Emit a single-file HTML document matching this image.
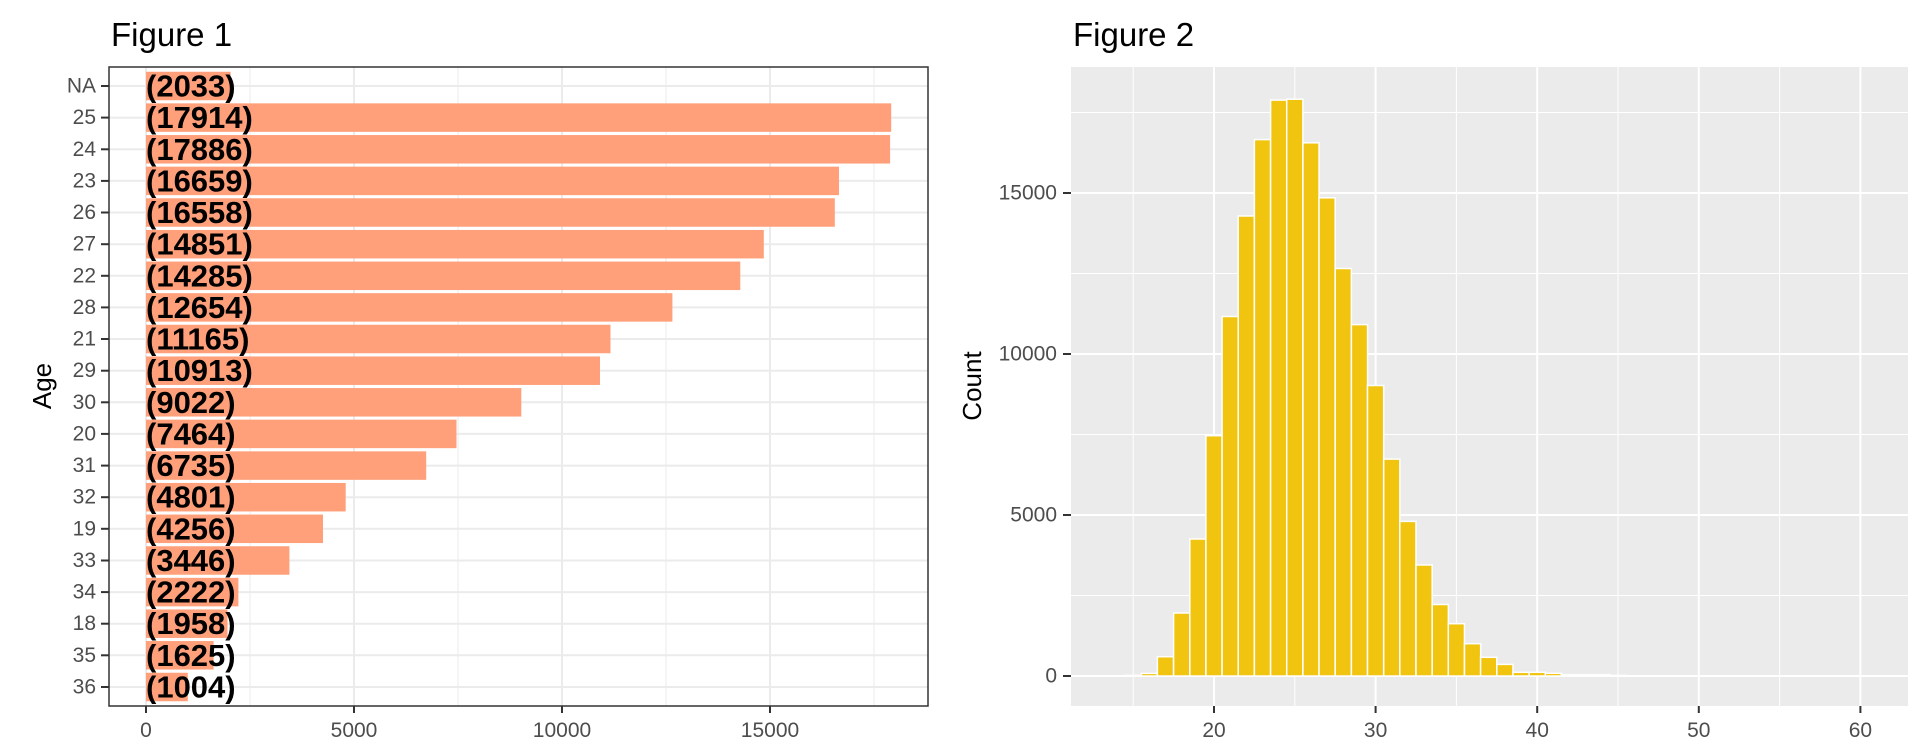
<!DOCTYPE html>
<html><head><meta charset="utf-8"><style>
html,body{margin:0;padding:0;background:#fff;}
svg{display:block;font-family:"Liberation Sans",Arial,sans-serif;}
.tk{font-size:21px;fill:#4d4d4d;}
.lb{font-size:31px;font-weight:bold;fill:#000;}
</style></head><body>
<svg width="1920" height="750" viewBox="0 0 1920 750" xmlns="http://www.w3.org/2000/svg">
<rect width="1920" height="750" fill="#fff"/>
<!-- Figure 1 -->
<text x="111" y="46" font-size="33" fill="#000">Figure 1</text>
<g stroke="#ebebeb">
<g stroke-width="1">
<line x1="250" y1="67" x2="250" y2="706"/><line x1="458" y1="67" x2="458" y2="706"/><line x1="666" y1="67" x2="666" y2="706"/><line x1="874" y1="67" x2="874" y2="706"/>
</g>
<g stroke-width="2">
<line x1="146" y1="67" x2="146" y2="706"/><line x1="354" y1="67" x2="354" y2="706"/><line x1="562" y1="67" x2="562" y2="706"/><line x1="770" y1="67" x2="770" y2="706"/>
<line x1="109" x2="928" y1="86" y2="86"/><line x1="109" x2="928" y1="117.6" y2="117.6"/><line x1="109" x2="928" y1="149.3" y2="149.3"/><line x1="109" x2="928" y1="180.9" y2="180.9"/><line x1="109" x2="928" y1="212.5" y2="212.5"/><line x1="109" x2="928" y1="244.2" y2="244.2"/><line x1="109" x2="928" y1="275.8" y2="275.8"/><line x1="109" x2="928" y1="307.4" y2="307.4"/><line x1="109" x2="928" y1="339" y2="339"/><line x1="109" x2="928" y1="370.7" y2="370.7"/><line x1="109" x2="928" y1="402.3" y2="402.3"/><line x1="109" x2="928" y1="433.9" y2="433.9"/><line x1="109" x2="928" y1="465.6" y2="465.6"/><line x1="109" x2="928" y1="497.2" y2="497.2"/><line x1="109" x2="928" y1="528.8" y2="528.8"/><line x1="109" x2="928" y1="560.5" y2="560.5"/><line x1="109" x2="928" y1="592.1" y2="592.1"/><line x1="109" x2="928" y1="623.7" y2="623.7"/><line x1="109" x2="928" y1="655.3" y2="655.3"/><line x1="109" x2="928" y1="687" y2="687"/>
</g></g>
<g fill="#FFA07A">
<rect x="146" y="71.75" width="84.6" height="28.5"/>
<rect x="146" y="103.35" width="745.2" height="28.5"/>
<rect x="146" y="135.05" width="744.1" height="28.5"/>
<rect x="146" y="166.65" width="693.0" height="28.5"/>
<rect x="146" y="198.25" width="688.8" height="28.5"/>
<rect x="146" y="229.95" width="617.8" height="28.5"/>
<rect x="146" y="261.55" width="594.3" height="28.5"/>
<rect x="146" y="293.15" width="526.4" height="28.5"/>
<rect x="146" y="324.75" width="464.5" height="28.5"/>
<rect x="146" y="356.45" width="454.0" height="28.5"/>
<rect x="146" y="388.05" width="375.3" height="28.5"/>
<rect x="146" y="419.65" width="310.5" height="28.5"/>
<rect x="146" y="451.35" width="280.2" height="28.5"/>
<rect x="146" y="482.95" width="199.7" height="28.5"/>
<rect x="146" y="514.55" width="177.0" height="28.5"/>
<rect x="146" y="546.25" width="143.4" height="28.5"/>
<rect x="146" y="577.85" width="92.4" height="28.5"/>
<rect x="146" y="609.45" width="81.5" height="28.5"/>
<rect x="146" y="641.05" width="67.6" height="28.5"/>
<rect x="146" y="672.75" width="41.8" height="28.5"/>
</g>
<g class="lb" dominant-baseline="central">
<text x="146" y="86">(2033)</text>
<text x="146" y="117.6">(17914)</text>
<text x="146" y="149.3">(17886)</text>
<text x="146" y="180.9">(16659)</text>
<text x="146" y="212.5">(16558)</text>
<text x="146" y="244.2">(14851)</text>
<text x="146" y="275.8">(14285)</text>
<text x="146" y="307.4">(12654)</text>
<text x="146" y="339">(11165)</text>
<text x="146" y="370.7">(10913)</text>
<text x="146" y="402.3">(9022)</text>
<text x="146" y="433.9">(7464)</text>
<text x="146" y="465.6">(6735)</text>
<text x="146" y="497.2">(4801)</text>
<text x="146" y="528.8">(4256)</text>
<text x="146" y="560.5">(3446)</text>
<text x="146" y="592.1">(2222)</text>
<text x="146" y="623.7">(1958)</text>
<text x="146" y="655.3">(1625)</text>
<text x="146" y="687">(1004)</text>
</g>
<rect x="109" y="67" width="819" height="639" fill="none" stroke="#333" stroke-width="1.5"/>
<g stroke="#333" stroke-width="2">
<line x1="101" x2="109" y1="86" y2="86"/><line x1="101" x2="109" y1="117.6" y2="117.6"/><line x1="101" x2="109" y1="149.3" y2="149.3"/><line x1="101" x2="109" y1="180.9" y2="180.9"/><line x1="101" x2="109" y1="212.5" y2="212.5"/><line x1="101" x2="109" y1="244.2" y2="244.2"/><line x1="101" x2="109" y1="275.8" y2="275.8"/><line x1="101" x2="109" y1="307.4" y2="307.4"/><line x1="101" x2="109" y1="339" y2="339"/><line x1="101" x2="109" y1="370.7" y2="370.7"/><line x1="101" x2="109" y1="402.3" y2="402.3"/><line x1="101" x2="109" y1="433.9" y2="433.9"/><line x1="101" x2="109" y1="465.6" y2="465.6"/><line x1="101" x2="109" y1="497.2" y2="497.2"/><line x1="101" x2="109" y1="528.8" y2="528.8"/><line x1="101" x2="109" y1="560.5" y2="560.5"/><line x1="101" x2="109" y1="592.1" y2="592.1"/><line x1="101" x2="109" y1="623.7" y2="623.7"/><line x1="101" x2="109" y1="655.3" y2="655.3"/><line x1="101" x2="109" y1="687" y2="687"/>
<line x1="146" x2="146" y1="706" y2="713"/><line x1="354" x2="354" y1="706" y2="713"/><line x1="562" x2="562" y1="706" y2="713"/><line x1="770" x2="770" y1="706" y2="713"/>
</g>
<g class="tk" text-anchor="end" dominant-baseline="central">
<text x="96" y="86">NA</text><text x="96" y="117.6">25</text><text x="96" y="149.3">24</text><text x="96" y="180.9">23</text><text x="96" y="212.5">26</text><text x="96" y="244.2">27</text><text x="96" y="275.8">22</text><text x="96" y="307.4">28</text><text x="96" y="339">21</text><text x="96" y="370.7">29</text><text x="96" y="402.3">30</text><text x="96" y="433.9">20</text><text x="96" y="465.6">31</text><text x="96" y="497.2">32</text><text x="96" y="528.8">19</text><text x="96" y="560.5">33</text><text x="96" y="592.1">34</text><text x="96" y="623.7">18</text><text x="96" y="655.3">35</text><text x="96" y="687">36</text>
</g>
<g class="tk" text-anchor="middle">
<text x="146" y="737">0</text><text x="354" y="737">5000</text><text x="562" y="737">10000</text><text x="770" y="737">15000</text>
</g>
<text transform="translate(51,386) rotate(-90)" text-anchor="middle" font-size="26" fill="#000">Age</text>

<!-- Figure 2 -->
<text x="1073" y="46" font-size="33" fill="#000">Figure 2</text>
<rect x="1071" y="67" width="837" height="639" fill="#ebebeb"/>
<g stroke="#fff" stroke-width="1">
<line x1="1133.2" x2="1133.2" y1="67" y2="706"/><line x1="1294.8" x2="1294.8" y1="67" y2="706"/><line x1="1456.4" x2="1456.4" y1="67" y2="706"/><line x1="1618" x2="1618" y1="67" y2="706"/><line x1="1779.6" x2="1779.6" y1="67" y2="706"/>
<line x1="1071" x2="1908" y1="595.5" y2="595.5"/><line x1="1071" x2="1908" y1="434.5" y2="434.5"/><line x1="1071" x2="1908" y1="273.5" y2="273.5"/><line x1="1071" x2="1908" y1="112.5" y2="112.5"/>
</g>
<g stroke="#fff" stroke-width="2">
<line x1="1214" x2="1214" y1="67" y2="706"/><line x1="1375.6" x2="1375.6" y1="67" y2="706"/><line x1="1537.2" x2="1537.2" y1="67" y2="706"/><line x1="1698.8" x2="1698.8" y1="67" y2="706"/><line x1="1860.4" x2="1860.4" y1="67" y2="706"/>
<line x1="1071" x2="1908" y1="676" y2="676"/><line x1="1071" x2="1908" y1="515" y2="515"/><line x1="1071" x2="1908" y1="354" y2="354"/><line x1="1071" x2="1908" y1="193" y2="193"/>
</g>
<g fill="#F1C40F" stroke="#fff" stroke-width="1.5">
<rect x="1125.1" y="675.4" width="16.16" height="0.6"/>
<rect x="1141.3" y="673.4" width="16.16" height="2.6"/>
<rect x="1157.4" y="656.7" width="16.16" height="19.3"/>
<rect x="1173.6" y="613.0" width="16.16" height="63.0"/>
<rect x="1189.8" y="539.0" width="16.16" height="137.0"/>
<rect x="1205.9" y="435.7" width="16.16" height="240.3"/>
<rect x="1222.1" y="316.5" width="16.16" height="359.5"/>
<rect x="1238.2" y="216.0" width="16.16" height="460.0"/>
<rect x="1254.4" y="139.6" width="16.16" height="536.4"/>
<rect x="1270.6" y="100.1" width="16.16" height="575.9"/>
<rect x="1286.7" y="99.2" width="16.16" height="576.8"/>
<rect x="1302.9" y="142.8" width="16.16" height="533.2"/>
<rect x="1319.0" y="197.8" width="16.16" height="478.2"/>
<rect x="1335.2" y="268.5" width="16.16" height="407.5"/>
<rect x="1351.4" y="324.6" width="16.16" height="351.4"/>
<rect x="1367.5" y="385.5" width="16.16" height="290.5"/>
<rect x="1383.7" y="459.1" width="16.16" height="216.9"/>
<rect x="1399.8" y="521.4" width="16.16" height="154.6"/>
<rect x="1416.0" y="565.0" width="16.16" height="111.0"/>
<rect x="1432.2" y="604.5" width="16.16" height="71.5"/>
<rect x="1448.3" y="623.7" width="16.16" height="52.3"/>
<rect x="1464.5" y="643.7" width="16.16" height="32.3"/>
<rect x="1480.6" y="657.3" width="16.16" height="18.7"/>
<rect x="1496.8" y="664.4" width="16.16" height="11.6"/>
<rect x="1513.0" y="672.3" width="16.16" height="3.7"/>
<rect x="1529.1" y="672.3" width="16.16" height="3.7"/>
<rect x="1545.3" y="673.3" width="16.16" height="2.7"/>
<rect x="1561.4" y="674.7" width="16.16" height="1.3"/>
<rect x="1577.6" y="674.7" width="16.16" height="1.3"/>
<rect x="1593.8" y="674.7" width="16.16" height="1.3"/>
<rect x="1609.9" y="675.4" width="16.16" height="0.6"/>
</g>
<g stroke="#333" stroke-width="2">
<line x1="1063" x2="1071" y1="676" y2="676"/><line x1="1063" x2="1071" y1="515" y2="515"/><line x1="1063" x2="1071" y1="354" y2="354"/><line x1="1063" x2="1071" y1="193" y2="193"/>
<line x1="1214" x2="1214" y1="706" y2="713"/><line x1="1375.6" x2="1375.6" y1="706" y2="713"/><line x1="1537.2" x2="1537.2" y1="706" y2="713"/><line x1="1698.8" x2="1698.8" y1="706" y2="713"/><line x1="1860.4" x2="1860.4" y1="706" y2="713"/>
</g>
<g class="tk" text-anchor="end" dominant-baseline="central">
<text x="1057" y="676">0</text><text x="1057" y="515">5000</text><text x="1057" y="354">10000</text><text x="1057" y="193">15000</text>
</g>
<g class="tk" text-anchor="middle">
<text x="1214" y="737">20</text><text x="1375.6" y="737">30</text><text x="1537.2" y="737">40</text><text x="1698.8" y="737">50</text><text x="1860.4" y="737">60</text>
</g>
<text transform="translate(981,386) rotate(-90)" text-anchor="middle" font-size="26" fill="#000">Count</text>
</svg>
</body></html>
